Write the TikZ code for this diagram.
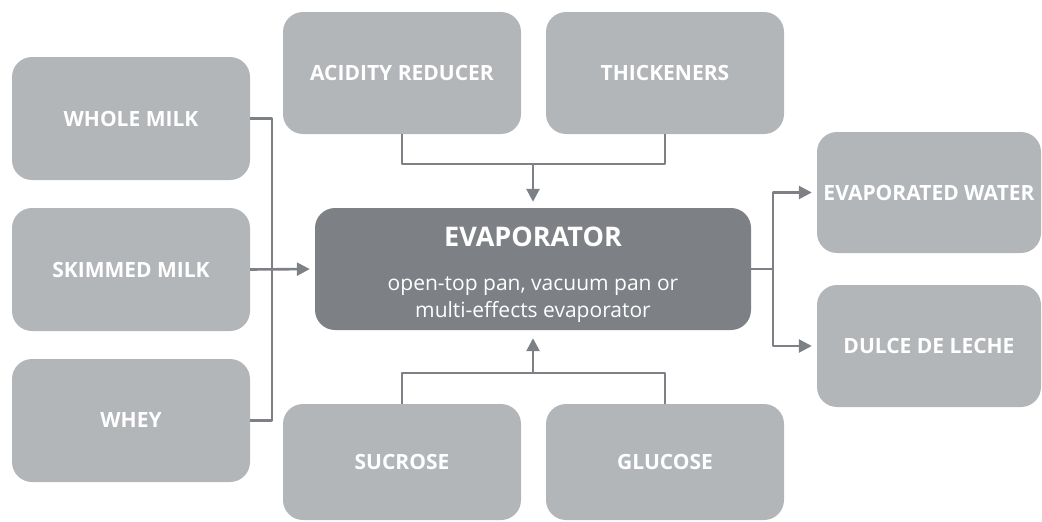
\documentclass[tikz,border=0pt]{standalone}
\usepackage{fontspec}
\setmainfont{Open Sans}
\usetikzlibrary{arrows.meta}
\definecolor{boxgray}{HTML}{B3B6B9}
\definecolor{evapgray}{HTML}{7D8085}
\definecolor{linegray}{HTML}{7D8085}
\begin{document}
\begin{tikzpicture}[x=1pt,y=-1pt,line join=round,
	item/.style={fill=boxgray,rounded corners=20pt,minimum width=238pt,minimum height=123pt,inner sep=2pt,
		text=white,font=\fontsize{21}{25}\selectfont\bfseries,align=center},
	flow/.style={draw=linegray,line width=2.6pt},
	tip/.style={-{Triangle[length=13pt,width=13pt]}}]
			\useasboundingbox (0,0) rectangle (1042,522);
			\node[item] (whole) at (131,118.5) {WHOLE MILK};
			\node[item] (skim) at (131,269.5) {SKIMMED MILK};
			\node[item] (whey) at (131,420.5) {WHEY};
			\node[item,minimum height=122pt] (acid) at (402,73) {ACIDITY REDUCER};
			\node[item,minimum height=122pt] (thick) at (665,73) {THICKENERS};
			\node[item,minimum height=116pt] (sucr) at (402,462) {SUCROSE};
			\node[item,minimum height=116pt] (gluc) at (665,462) {GLUCOSE};
			\node[item,minimum width=224pt,minimum height=121pt,inner sep=0pt] (water) at (929,192.5) {EVAPORATED WATER};
			\node[item,minimum width=224pt,minimum height=122pt] (dulce) at (929,346) {DULCE DE LECHE};
			\node[item,fill=evapgray,minimum width=436pt,minimum height=122pt] (evap) at (533,269) {};
			\node[text=white,align=center,font=\fontsize{21}{27}\selectfont] (evaptext) at (533,275)
				{{\fontsize{27}{34}\selectfont\bfseries EVAPORATOR}\\[17pt]open-top pan, vacuum pan or\\multi-effects evaporator};
			\coordinate (jl) at (272,269);
			\coordinate (jt) at (533,164);
			\coordinate (jb) at (533,373);
			\coordinate (jr) at (773,269);
			\draw[flow] (whole.east) -| (jl) (whey.east) -| (jl);
			\draw[flow,tip,shorten >=5pt] (skim.east) -- (evap.west);
			\draw[flow] (acid.south) |- (jt) -| (thick.south);
			\draw[flow,tip,shorten >=6pt] (jt) -- (evap.north);
			\draw[flow] (sucr.north) |- (jb) -| (gluc.north);
			\draw[flow,tip,shorten >=8pt] (jb) -- (evap.south);
			\draw[flow] (evap.east) -- (jr);
			\draw[flow,tip,shorten >=5pt] (jr) |- (water.west);
			\draw[flow,tip,shorten >=5pt] (jr) |- (dulce.west);
		\end{tikzpicture}
\end{document}
